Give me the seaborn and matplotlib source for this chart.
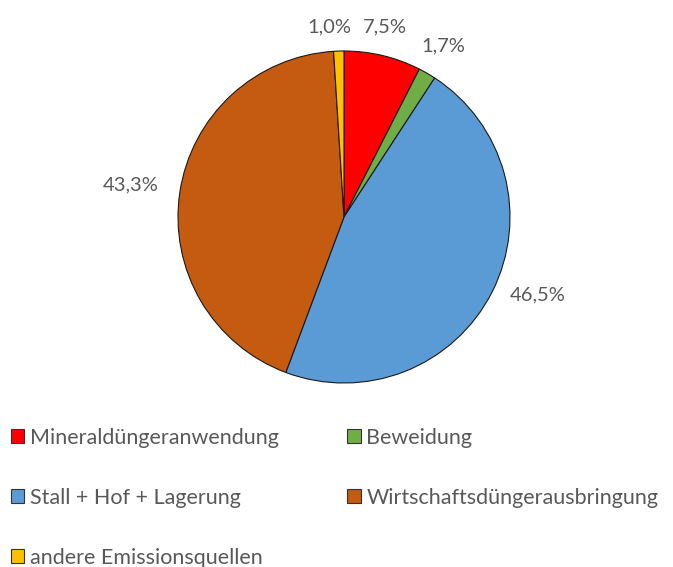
import numpy as np
import matplotlib
matplotlib.use("Agg")
import matplotlib.pyplot as plt
import seaborn as sns
from matplotlib.patches import Patch

categories = ["Mineraldüngeranwendung", "Beweidung", "Stall + Hof + Lagerung",
              "Wirtschaftsdüngerausbringung", "andere Emissionsquellen"]
values = [7.5, 1.7, 46.5, 43.3, 1.0]
labels = ["7,5%", "1,7%", "46,5%", "43,3%", "1,0%"]
colors = ["#FF0000", "#70AD47", "#5B9BD5", "#C55A11", "#FFC000"]
label_dist = [1.17, 1.19, 1.26, 1.30, 1.15]
label_shift = [1.3, 0, 5, 0, 2.5]  # degrees

sns.set_theme(style="white")
plt.rcParams['font.family'] = ['Lato', 'DejaVu Sans']
text_color = "#595959"

W, H = 673, 567
fig = plt.figure(figsize=(W / 100, H / 100), dpi=100)
cx, cy, r = 344, 217, 166
ax = fig.add_axes([(cx - r) / W, (H - cy - r) / H, 2 * r / W, 2 * r / H])

wedges, _ = ax.pie(values, colors=colors, startangle=90, counterclock=False,
                   radius=1.0, wedgeprops=dict(edgecolor="#1a1a1a", linewidth=0.8))
ax.set_xlim(-1, 1)
ax.set_ylim(-1, 1)
ax.set_aspect("equal")
ax.axis("off")

total = sum(values)
cum = 0
for v, lab, d, s in zip(values, labels, label_dist, label_shift):
    mid = 90 - (cum + v / 2) / total * 360 + s
    cum += v
    a = np.deg2rad(mid)
    ax.text(d * np.cos(a), d * np.sin(a), lab, ha="center", va="center",
            fontsize=14.5, color=text_color, clip_on=False)

order = [0, 2, 4, 1, 3]
handles = [Patch(facecolor=colors[i], edgecolor="#333333", linewidth=0.8) for i in order]
fig.legend(handles, [categories[i] for i in order], ncol=2,
           loc="upper left", bbox_to_anchor=(11 / W, 1 - 428 / H),
           frameon=False, fontsize=15.5, labelcolor=text_color,
           handlelength=0.62, handleheight=0.62, handletextpad=0.25,
           labelspacing=1.85, columnspacing=3.2, borderaxespad=0, borderpad=0)

fig.savefig("out.png", dpi=100, facecolor="white")
